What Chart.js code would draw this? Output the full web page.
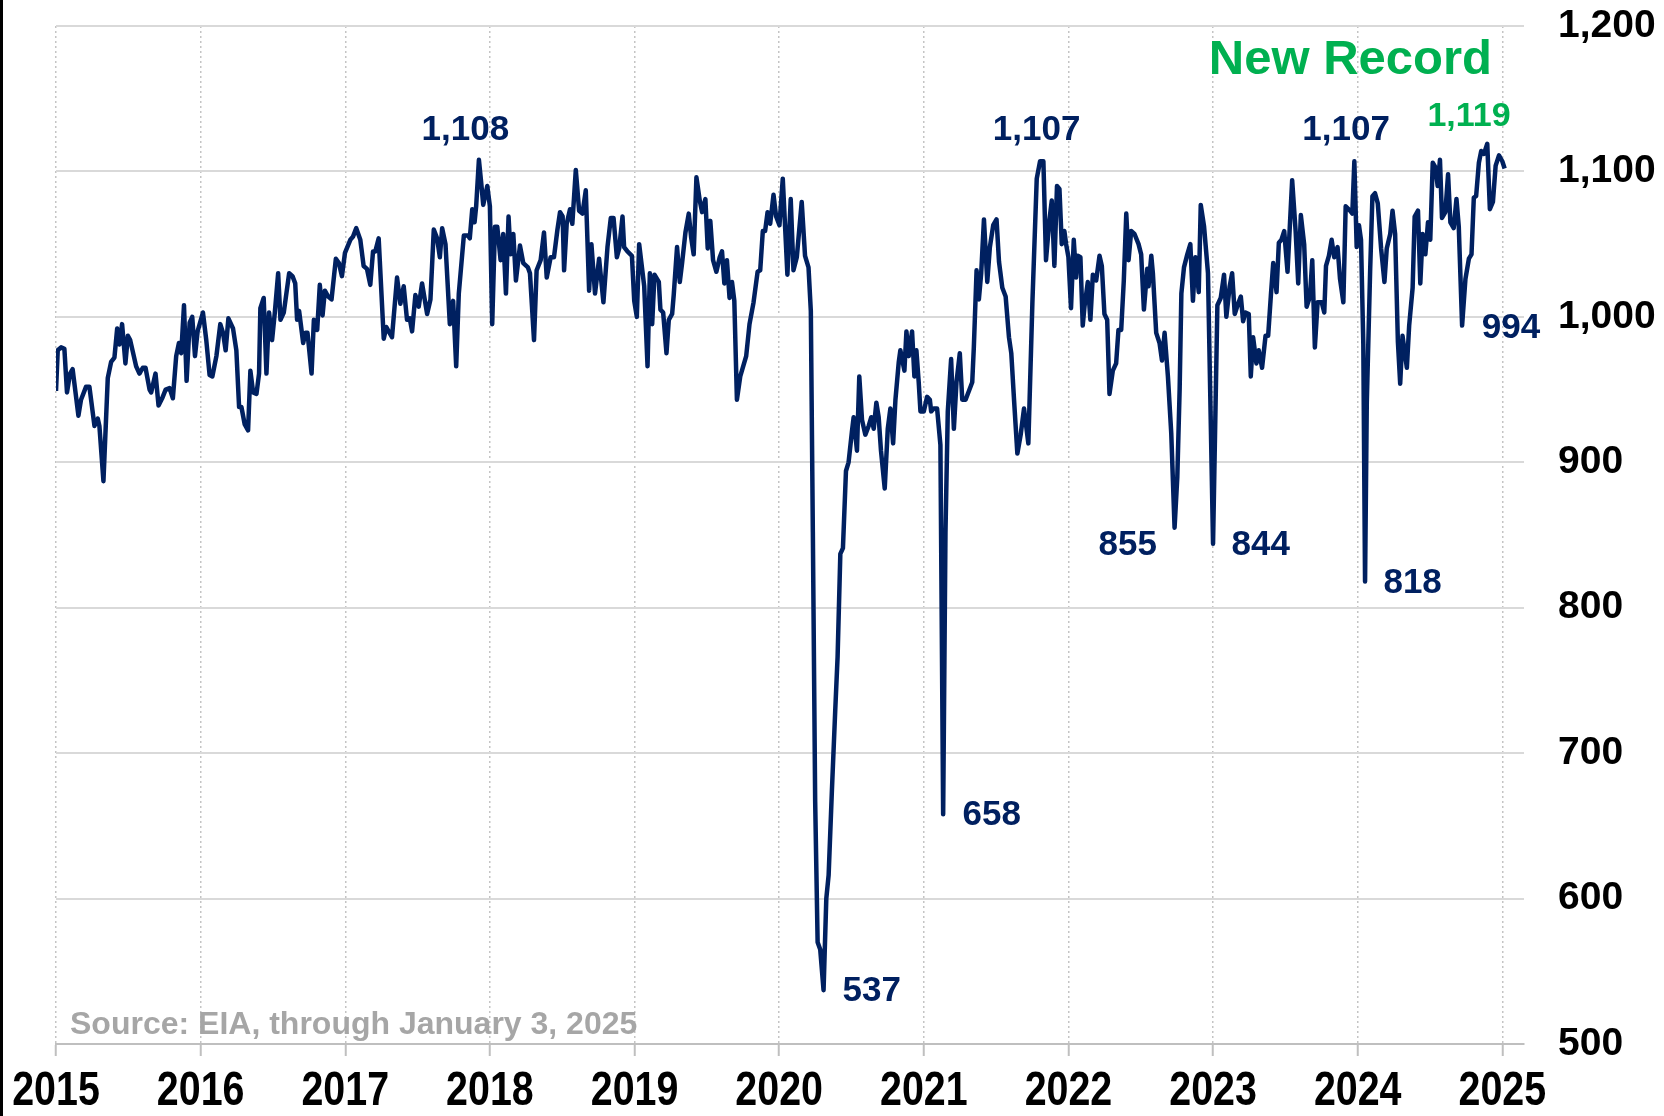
<!DOCTYPE html>
<html>
<head>
<meta charset="utf-8">
<title>Weekly series, 2015-2025</title>
<script src="https://cdn.jsdelivr.net/npm/chart.js@4.4.1/dist/chart.umd.min.js"></script>
<style>
    html, body { margin: 0; padding: 0; background: #fff; }
    #wrap { position: relative; width: 1664px; height: 1116px; }
</style>
</head>
<body>
<div id="wrap"><canvas id="weeklyChart" width="1664" height="1116"></canvas></div>
<script>
// time of each reading, in decimal years
const weeks = [
    2015.000, 2015.012, 2015.035, 2015.058, 2015.076, 2015.097, 2015.115, 2015.155, 2015.173, 2015.208,
    2015.231, 2015.266, 2015.289, 2015.300, 2015.328, 2015.358, 2015.381, 2015.404, 2015.423, 2015.439,
    2015.457, 2015.480, 2015.497, 2015.513, 2015.554, 2015.577, 2015.600, 2015.619, 2015.647, 2015.658,
    2015.688, 2015.709, 2015.734, 2015.758, 2015.785, 2015.808, 2015.831, 2015.850, 2015.866, 2015.885,
    2015.903, 2015.924, 2015.942, 2015.961, 2015.979, 2016.016, 2016.039, 2016.062, 2016.081, 2016.109,
    2016.136, 2016.155, 2016.173, 2016.192, 2016.224, 2016.247, 2016.266, 2016.282, 2016.305, 2016.328,
    2016.344, 2016.363, 2016.386, 2016.404, 2016.413, 2016.436, 2016.455, 2016.473, 2016.494, 2016.513,
    2016.536, 2016.552, 2016.575, 2016.612, 2016.635, 2016.654, 2016.667, 2016.681, 2016.709, 2016.725,
    2016.739, 2016.767, 2016.783, 2016.806, 2016.824, 2016.843, 2016.859, 2016.882, 2016.905, 2016.935,
    2016.956, 2016.977, 2016.998, 2017.035, 2017.053, 2017.076, 2017.104, 2017.127, 2017.150, 2017.173,
    2017.192, 2017.208, 2017.231, 2017.266, 2017.284, 2017.323, 2017.358, 2017.381, 2017.404, 2017.427,
    2017.446, 2017.462, 2017.485, 2017.508, 2017.531, 2017.566, 2017.589, 2017.612, 2017.635, 2017.654,
    2017.670, 2017.693, 2017.723, 2017.746, 2017.767, 2017.785, 2017.820, 2017.848, 2017.861, 2017.878,
    2017.894, 2017.905, 2017.924, 2017.940, 2017.954, 2017.982, 2018.000, 2018.016, 2018.035, 2018.051,
    2018.074, 2018.092, 2018.111, 2018.129, 2018.143, 2018.162, 2018.180, 2018.208, 2018.231, 2018.263,
    2018.277, 2018.305, 2018.323, 2018.351, 2018.374, 2018.393, 2018.420, 2018.443, 2018.467, 2018.485,
    2018.503, 2018.513, 2018.531, 2018.554, 2018.570, 2018.594, 2018.617, 2018.640, 2018.663, 2018.686,
    2018.702, 2018.727, 2018.755, 2018.785, 2018.813, 2018.836, 2018.855, 2018.878, 2018.894, 2018.917,
    2018.928, 2018.951, 2018.982, 2018.998, 2019.016, 2019.032, 2019.067, 2019.090, 2019.106, 2019.122,
    2019.138, 2019.168, 2019.179, 2019.198, 2019.221, 2019.237, 2019.260, 2019.271, 2019.294, 2019.313,
    2019.329, 2019.352, 2019.375, 2019.391, 2019.409, 2019.428, 2019.451, 2019.467, 2019.490, 2019.506,
    2019.524, 2019.543, 2019.566, 2019.589, 2019.605, 2019.621, 2019.639, 2019.657, 2019.674, 2019.690,
    2019.708, 2019.731, 2019.772, 2019.795, 2019.823, 2019.851, 2019.869, 2019.887, 2019.903, 2019.920,
    2019.938, 2019.961, 2019.979, 2020.002, 2020.025, 2020.057, 2020.080, 2020.099, 2020.122, 2020.156,
    2020.179, 2020.203, 2020.219, 2020.233, 2020.249, 2020.266, 2020.284, 2020.307, 2020.326, 2020.342,
    2020.365, 2020.388, 2020.404, 2020.423, 2020.441, 2020.462, 2020.480, 2020.503, 2020.515, 2020.538,
    2020.554, 2020.573, 2020.596, 2020.619, 2020.637, 2020.654, 2020.672, 2020.688, 2020.704, 2020.730,
    2020.751, 2020.769, 2020.788, 2020.804, 2020.827, 2020.838, 2020.866, 2020.880, 2020.896, 2020.919,
    2020.935, 2020.949, 2020.965, 2020.977, 2021.000, 2021.023, 2021.042, 2021.051, 2021.069, 2021.092,
    2021.115, 2021.134, 2021.150, 2021.166, 2021.189, 2021.208, 2021.226, 2021.249, 2021.266, 2021.289,
    2021.312, 2021.335, 2021.346, 2021.365, 2021.381, 2021.397, 2021.416, 2021.439, 2021.457, 2021.480,
    2021.503, 2021.520, 2021.543, 2021.566, 2021.589, 2021.605, 2021.624, 2021.647, 2021.670, 2021.693,
    2021.723, 2021.751, 2021.781, 2021.804, 2021.827, 2021.845, 2021.868, 2021.885, 2021.903, 2021.921,
    2021.938, 2021.954, 2021.972, 2021.984, 2022.000, 2022.018, 2022.037, 2022.053, 2022.065, 2022.083,
    2022.099, 2022.111, 2022.134, 2022.152, 2022.169, 2022.192, 2022.215, 2022.231, 2022.249, 2022.268,
    2022.284, 2022.307, 2022.330, 2022.346, 2022.365, 2022.383, 2022.400, 2022.416, 2022.434, 2022.457,
    2022.485, 2022.503, 2022.522, 2022.545, 2022.554, 2022.573, 2022.584, 2022.607, 2022.630, 2022.647,
    2022.665, 2022.688, 2022.711, 2022.734, 2022.753, 2022.769, 2022.781, 2022.799, 2022.822, 2022.843,
    2022.861, 2022.878, 2022.901, 2022.915, 2022.938, 2022.965, 2023.000, 2023.030, 2023.053, 2023.076,
    2023.092, 2023.115, 2023.132, 2023.150, 2023.173, 2023.192, 2023.208, 2023.224, 2023.247, 2023.261,
    2023.277, 2023.300, 2023.316, 2023.339, 2023.363, 2023.381, 2023.400, 2023.416, 2023.439, 2023.455,
    2023.473, 2023.492, 2023.515, 2023.547, 2023.571, 2023.589, 2023.607, 2023.630, 2023.647, 2023.670,
    2023.686, 2023.704, 2023.723, 2023.751, 2023.769, 2023.781, 2023.801, 2023.820, 2023.838, 2023.861,
    2023.878, 2023.901, 2023.917, 2023.947, 2023.963, 2023.977, 2023.993, 2024.009, 2024.023, 2024.039,
    2024.051, 2024.063, 2024.086, 2024.102, 2024.120, 2024.139, 2024.162, 2024.185, 2024.201, 2024.225,
    2024.241, 2024.259, 2024.278, 2024.294, 2024.310, 2024.340, 2024.356, 2024.380, 2024.394, 2024.417,
    2024.433, 2024.449, 2024.468, 2024.486, 2024.502, 2024.519, 2024.537, 2024.553, 2024.569, 2024.583,
    2024.606, 2024.625, 2024.641, 2024.664, 2024.683, 2024.699, 2024.722, 2024.745, 2024.769, 2024.787,
    2024.803, 2024.819, 2024.838, 2024.854, 2024.873, 2024.896, 2024.914, 2024.935, 2024.954, 2024.977,
    2025.000, 2025.016
];

// reading at each of those times
const values = [
    949, 977, 979, 978, 948, 961, 964, 932, 943, 952,
    952, 925, 930, 925, 887, 958, 969, 972, 992, 981,
    995, 968, 987, 984, 966, 961, 965, 965, 950, 948,
    961, 939, 944, 950, 951, 944, 973, 982, 975, 1008,
    956, 996, 1000, 973, 990, 1003, 984, 960, 959, 973,
    995, 989, 977, 999, 992, 977, 938, 938, 926, 922,
    963, 948, 947, 961, 1006, 1013, 961, 1003, 984, 1003,
    1030, 998, 1003, 1030, 1028, 1023, 998, 1004, 982, 989,
    989, 961, 998, 991, 1022, 1001, 1018, 1014, 1012, 1040,
    1037, 1028, 1044, 1053, 1055, 1061, 1053, 1035, 1033, 1022,
    1045, 1045, 1054, 985, 993, 986, 1027, 1009, 1021, 998,
    999, 990, 1015, 1007, 1023, 1002, 1012, 1060, 1054, 1041,
    1061, 1050, 995, 1011, 966, 1016, 1056, 1056, 1054, 1074,
    1065, 1076, 1108, 1092, 1077, 1090, 1076, 995, 1062, 1062,
    1039, 1057, 1016, 1069, 1043, 1057, 1025, 1049, 1037, 1034,
    1030, 984, 1032, 1039, 1058, 1027, 1041, 1041, 1060, 1072,
    1069, 1032, 1064, 1074, 1064, 1101, 1073, 1071, 1087, 1018,
    1050, 1016, 1040, 1010, 1048, 1068, 1068, 1041, 1047, 1069,
    1048, 1045, 1042, 1011, 1000, 1050, 1021, 966, 1030, 995,
    1029, 1024, 1005, 1003, 975, 998, 1002, 1015, 1048, 1024,
    1037, 1058, 1071, 1055, 1043, 1096, 1080, 1072, 1081, 1047,
    1066, 1039, 1031, 1041, 1045, 1023, 1039, 1013, 1024, 1011,
    943, 959, 973, 995, 1010, 1031, 1032, 1059, 1059, 1072,
    1064, 1084, 1069, 1063, 1095, 1029, 1081, 1032, 1041, 1079,
    1042, 1034, 1004, 852, 667, 570, 565, 537, 600, 616,
    675, 730, 766, 837, 841, 894, 900, 921, 931, 908,
    959, 929, 919, 925, 931, 923, 941, 931, 908, 882,
    923, 937, 913, 943, 969, 977, 963, 990, 973, 990,
    959, 977, 955, 935, 935, 945, 943, 935, 937, 937,
    912, 658, 852, 935, 971, 923, 955, 975, 943, 943,
    949, 955, 979, 1032, 1012, 1030, 1067, 1024, 1048, 1063,
    1067, 1038, 1020, 1014, 986, 975, 943, 906, 919, 937,
    913, 1010, 1095, 1107, 1107, 1039, 1066, 1080, 1035, 1090,
    1088, 1050, 1059, 1050, 1041, 1006, 1053, 1027, 1042, 1041,
    994, 1007, 1024, 998, 1029, 1025, 1042, 1035, 1002, 998,
    947, 963, 968, 991, 991, 1025, 1071, 1039, 1059, 1057,
    1050, 1043, 1005, 1033, 1021, 1042, 1030, 989, 982, 970,
    989, 959, 920, 855, 890, 950, 1016, 1034, 1043, 1050,
    1011, 1041, 1017, 1077, 1062, 1030, 844, 1008, 1013, 1029,
    1000, 1021, 1030, 1002, 1009, 1014, 997, 1003, 1002, 959,
    986, 968, 977, 965, 987, 987, 1015, 1037, 1017, 1051,
    1053, 1059, 1031, 1094, 1059, 1023, 1070, 1050, 1007, 1014,
    1039, 979, 1010, 1010, 1003, 1035, 1042, 1053, 1041, 1048,
    1026, 1010, 1076, 1073, 1071, 1107, 1048, 1063, 1053, 981,
    818, 941, 1031, 1083, 1085, 1078, 1047, 1024, 1047, 1057,
    1073, 1057, 983, 954, 987, 965, 994, 1020, 1069, 1073,
    1023, 1057, 1043, 1065, 1053, 1106, 1103, 1090, 1108, 1068,
    1072, 1098, 1065, 1061, 1081, 1062, 994, 1026, 1040, 1043,
    1082, 1083, 1106, 1114, 1112, 1119, 1074, 1079, 1104, 1111,
    1107, 1102
];

const yearTicks = [2015, 2016, 2017, 2018, 2019, 2020, 2021, 2022, 2023, 2024, 2025];
const valueTicks = [500, 600, 700, 800, 900, 1000, 1100, 1200];

// callouts placed in data units
const callouts = [
    { text: '1,108', x: 2017.83, y: 1128, color: '#002060', size: 35 },
    { text: '1,107', x: 2021.78, y: 1128, color: '#002060', size: 35 },
    { text: '1,107', x: 2023.92, y: 1128, color: '#002060', size: 35 },
    { text: '1,119', x: 2024.77, y: 1138, color: '#00B050', size: 34 },
    { text: 'New Record', x: 2023.95, y: 1176, color: '#00B050', size: 49 },
    { text: '994', x: 2025.06, y: 992, color: '#002060', size: 35 },
    { text: '855', x: 2022.41, y: 843, color: '#002060', size: 35 },
    { text: '844', x: 2023.33, y: 843, color: '#002060', size: 35 },
    { text: '818', x: 2024.38, y: 817, color: '#002060', size: 35 },
    { text: '658', x: 2021.47, y: 657, color: '#002060', size: 35 },
    { text: '537', x: 2020.64, y: 536, color: '#002060', size: 35 },
    { text: 'Source: EIA, through January 3, 2025', x: 2015.097, y: 513, color: '#A6A6A6', size: 32, align: 'left' }
];

const sansFont = '"Liberation Sans", Arial, sans-serif';

const pageDecor = {
    id: 'pageDecor',
    beforeDraw(chart) {
        const ctx = chart.ctx;
        ctx.save();
        ctx.fillStyle = '#ffffff';
        ctx.fillRect(0, 0, chart.width, chart.height);
        ctx.fillStyle = '#000000';
        ctx.fillRect(0, 0, 3, chart.height);
        ctx.restore();
    },
    afterDatasetsDraw(chart) {
        const ctx = chart.ctx;
        const xs = chart.scales.x;
        const ys = chart.scales.y;
        ctx.save();
        ctx.textBaseline = 'middle';
        callouts.forEach(c => {
            ctx.font = 'bold ' + c.size + 'px ' + sansFont;
            ctx.fillStyle = c.color;
            ctx.textAlign = c.align || 'center';
            ctx.fillText(c.text, xs.getPixelForValue(c.x), ys.getPixelForValue(c.y));
        });

        // year labels in a narrow bold face (horizontally squeezed Liberation Sans)
        const squeeze = 0.82;
        ctx.font = 'bold 48px ' + sansFont;
        ctx.fillStyle = '#000';
        ctx.textAlign = 'center';
        xs.ticks.forEach(t => {
            const px = xs.getPixelForValue(t.value);
            ctx.save();
            ctx.translate(px, xs.top + 48);
            ctx.scale(squeeze, 1);
            ctx.fillText(String(t.value), 0, 0);
            ctx.restore();
        });
        ctx.restore();
    }
};

const ctx = document.getElementById('weeklyChart').getContext('2d');
const weeklyChart = new Chart(ctx, {
    type: 'line',
    data: {
        datasets: [{
            label: 'Weekly',
            data: weeks.map((w, i) => ({ x: w, y: values[i] })),
            borderColor: '#002060',
            borderWidth: 4.5,
            borderJoinStyle: 'round',
            pointRadius: 0,
            tension: 0,
            fill: false
        }]
    },
    options: {
        responsive: false,
        animation: false,
        devicePixelRatio: 1,
        layout: { padding: { left: 56, top: 26, right: 0, bottom: 0 } },
        plugins: {
            legend: { display: false },
            tooltip: { enabled: false }
        },
        scales: {
            x: {
                type: 'linear',
                position: 'bottom',
                min: 2015,
                max: 2025.15,
                afterBuildTicks: axis => { axis.ticks = yearTicks.map(v => ({ value: v })); },
                afterFit: axis => {
                    axis.height = 72;
                    axis.paddingLeft = 0;
                    axis.paddingRight = 0;
                },
                grid: {
                    color: '#c4c4c4',
                    lineWidth: 1.5,
                    drawTicks: true,
                    tickLength: 12,
                    tickColor: '#bfbfbf',
                    tickWidth: 2,
                    tickBorderDash: []
                },
                border: { display: true, color: '#bfbfbf', width: 2, dash: [2, 3] },
                ticks: { display: false }
            },
            y: {
                type: 'linear',
                position: 'right',
                min: 500,
                max: 1200,
                afterBuildTicks: axis => { axis.ticks = valueTicks.map(v => ({ value: v })); },
                afterFit: axis => {
                    axis.width = 140;
                    axis.paddingTop = 0;
                    axis.paddingBottom = 0;
                },
                grid: { color: '#d9d9d9', lineWidth: 2, drawTicks: false },
                border: { display: false },
                ticks: {
                    color: '#000',
                    padding: 34,
                    font: { family: sansFont, size: 39, weight: 'bold' },
                    callback: v => v.toLocaleString('en-US')
                }
            }
        }
    },
    plugins: [pageDecor]
});
</script>
</body>
</html>
